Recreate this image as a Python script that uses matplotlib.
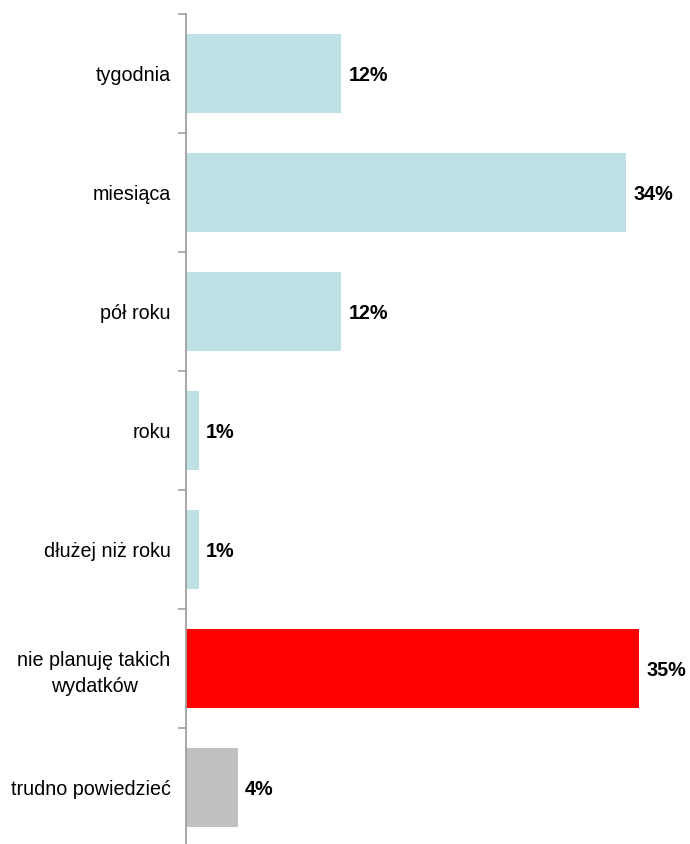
import matplotlib
matplotlib.use("Agg")
import matplotlib.pyplot as plt
import numpy as np

categories = ["tygodnia", "miesiąca", "pół roku", "roku", "dłużej niż roku",
              "nie planuję takich\nwydatków", "trudno powiedzieć"]
values = [12, 34, 12, 1, 1, 35, 4]
value_labels = ["12%", "34%", "12%", "1%", "1%", "35%", "4%"]
colors = ["#BDE1E4", "#BDE1E4", "#BDE1E4", "#BDE1E4", "#BDE1E4", "#FF0000", "#C0C0C0"]

plt.rcParams['font.family'] = ['Liberation Sans', 'DejaVu Sans']

W, H = 690, 844
fig = plt.figure(figsize=(W / 100, H / 100), dpi=100)
left = 186 / W
top_px = 13.5
step = 119
bottom_px = top_px + step * len(categories)
xmax = 38
ax_w = 12.95 * xmax / W
ax = fig.add_axes([left, 1 - bottom_px / H, ax_w, (bottom_px - top_px) / H])

y = np.arange(len(categories))
ax.barh(y, values, height=79 / 119, color=colors, edgecolor='none', zorder=2)
for yi, v, lab in zip(y, values, value_labels):
    ax.text(v + 0.55, yi + 0.02, lab, va='center', ha='left', fontsize=14.2,
            fontweight='bold', color='black')

ax.set_ylim(len(categories) - 0.5, -0.5)
ax.set_xlim(0, xmax)
ax.set_yticks(y)
ax.set_yticklabels(categories, fontsize=14.2, multialignment='center', linespacing=1.45)
ax.tick_params(axis='y', which='major', length=0, pad=11)
ax.set_yticks(np.arange(-0.5, len(categories), 1), minor=True)
ax.tick_params(axis='y', which='minor', length=6, width=1.2, color='#A0A0A0')
ax.set_xticks([])
for s in ['top', 'right', 'bottom']:
    ax.spines[s].set_visible(False)
ax.spines['left'].set_color('#A0A0A0')
ax.spines['left'].set_linewidth(1.3)

fig.savefig("out.png", dpi=100)
